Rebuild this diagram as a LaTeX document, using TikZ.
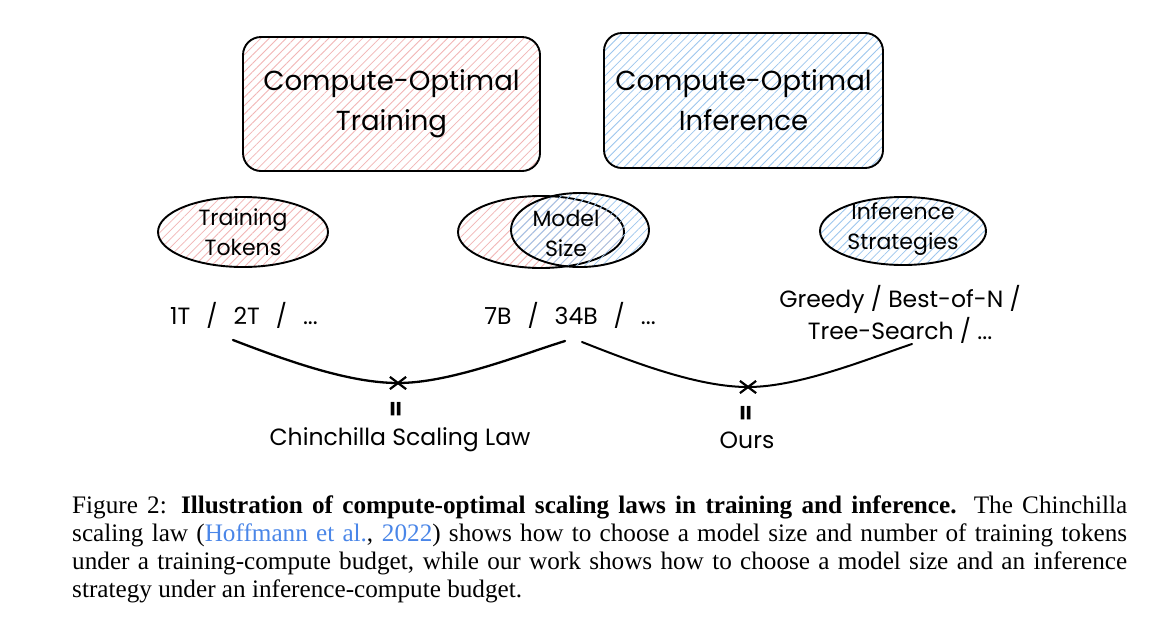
\documentclass[tikz,border=0pt]{standalone}
\usepackage{fontspec}
\setmainfont{Liberation Serif}
\newfontfamily\hand{Poppins}
\usetikzlibrary{patterns.meta,shapes.geometric,shapes.misc}
\definecolor{hatchred}{HTML}{F2B5B5}
\definecolor{hatchblue}{HTML}{9CC6EE}
\definecolor{citeblue}{HTML}{4A86E8}
\newcommand{\gap}{\hspace{16pt}}
\begin{document}
\begin{tikzpicture}[x=1pt,y=-1pt,
  sk/.style={line width=1.9pt, draw=black},
  redhatch/.style={pattern={Lines[angle=45,distance=6pt,line width=0.8pt]},pattern color=hatchred},
  bluehatch/.style={pattern={Lines[angle=45,distance=6pt,line width=0.8pt]},pattern color=hatchblue},
  bigbox/.style={sk, rounded corners=18pt, inner sep=0pt, align=center,
    font=\hand\fontsize{27.5}{40}\selectfont},
  oval/.style={sk, ellipse, inner sep=0pt},
  lbl/.style={inner sep=0pt, align=center, font=\hand\fontsize{22}{30}\selectfont},
  val/.style={inner sep=0pt, align=center, font=\hand\fontsize{23.5}{32}\selectfont},
  curve/.style={line width=2.3pt, line cap=round},
  xmark/.style={cross out, draw=black, line width=2.2pt, minimum width=14pt, minimum height=10pt, inner sep=0pt},
  eqmark/.style={inner sep=0pt, rotate=90, font=\hand\bfseries\fontsize{24}{24}\selectfont}
]
\useasboundingbox[fill=white] (0,0) rectangle (1150,630);

% top boxes
\node[bigbox, redhatch, minimum width=297pt, minimum height=134pt] (train) at (391.5,104) {Compute-Optimal\\Training};
\node[bigbox, bluehatch, minimum width=279pt, minimum height=135pt] (infer) at (743.5,100.5) {Compute-Optimal\\Inference};

% ovals
\node[oval, redhatch, minimum width=170pt, minimum height=70pt] (tt) at (243,232) {};
\node[lbl] (ttl) at (243,232) {Training\\Tokens};

\node[oval, redhatch, minimum width=166pt, minimum height=72pt] (msr) at (541,232) {};
\node[oval, bluehatch, minimum width=138pt, minimum height=74pt] (msb) at (580,230) {};
\node[lbl] (msl) at (566,233) {Model\\Size};

\node[oval, bluehatch, minimum width=166pt, minimum height=68pt] (is) at (903,231) {};
\node[lbl] (isl) at (903,229) {Inference\\Strategies};

% value texts
\node[val] (v1) at (244,315) {1T\gap/\gap2T\gap/\gap...};
\node[val] (v2) at (570,315) {7B\gap/\gap34B\gap/\gap...};
\node[val] (v3) at (900,314) {Greedy / Best-of-N /\\Tree-Search / ...};

% curves
\coordinate (a1) at (233,340);
\coordinate (b1) at (565,341);
\coordinate (a2) at (582,342);
\coordinate (b2) at (912,344);
\node[xmark] (x1) at (398,383) {};
\node[xmark] (x2) at (748,387) {};
\draw[curve] (a1) .. controls (290,362) and (350,383) .. (x1.center)
  .. controls (450,383) and (520,355) .. (b1);
\draw[curve, line width=2pt] (a2) .. controls (640,365) and (700,387) .. (x2.center)
  .. controls (800,387) and (870,358) .. (b2);

% equal marks and results
\node[eqmark] (e1) at (398,409) {=};
\node[eqmark] (e2) at (748,413) {=};
\node[val] (chin) at (400,440) {Chinchilla Scaling Law};
\node[val] (ours) at (747,440) {Ours};

% caption
\node[anchor=base west, inner sep=0pt, text width=1055pt, align=justify,
  font=\fontsize{25.2}{28.2}\selectfont] (cap) at (72,513)
{Figure 2: \textbf{Illustration of compute-optimal scaling laws in training and inference.} The Chinchilla\linebreak
scaling law ({\color{citeblue}Hoffmann et al.}, {\color{citeblue}2022}) shows how to choose a model size and number of training tokens\linebreak
under a training-compute budget, while our work shows how to choose a model size and an inference\linebreak
strategy under an inference-compute budget.};
\end{tikzpicture}
\end{document}
